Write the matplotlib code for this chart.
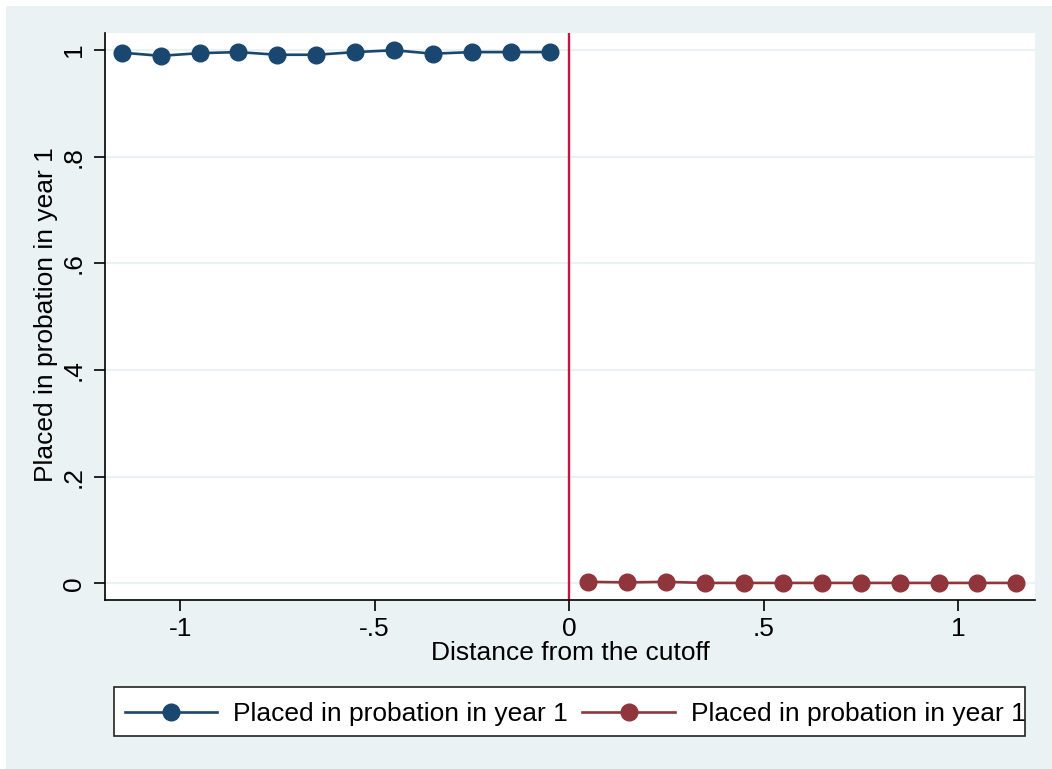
import matplotlib
matplotlib.use("Agg")
import matplotlib.pyplot as plt
from matplotlib.patches import Rectangle
from matplotlib.lines import Line2D

plt.rcParams['font.family'] = ['Liberation Sans', 'DejaVu Sans']

# Data
x_left = [-1.15, -1.05, -0.95, -0.85, -0.75, -0.65, -0.55, -0.45, -0.35, -0.25, -0.15, -0.05]
y_left = [0.995, 0.989, 0.994, 0.996, 0.991, 0.991, 0.996, 0.9995, 0.993, 0.996, 0.996, 0.996]
x_right = [0.05, 0.15, 0.25, 0.35, 0.45, 0.55, 0.65, 0.75, 0.85, 0.95, 1.05, 1.15]
y_right = [0.003, 0.002, 0.003, 0.001, 0.001, 0.001, 0.001, 0.001, 0.001, 0.001, 0.001, 0.001]
xticks = [-1, -0.5, 0, 0.5, 1]
xticklabels = ['-1', '-.5', '0', '.5', '1']
yticks = [0, 0.2, 0.4, 0.6, 0.8, 1]
yticklabels = ['0', '.2', '.4', '.6', '.8', '1']
series_label = 'Placed in probation in year 1'
xlabel = 'Distance from the cutoff'
ylabel = 'Placed in probation in year 1'

W, H = 1052, 769
FS = 19
LW = 1.9
MS = 12
fig = plt.figure(figsize=(W / 100, H / 100), dpi=100)
fig.patch.set_facecolor('white')
bg = '#EAF2F3'
fig.patches.append(Rectangle((6 / W, 0), 1 - 6 / W, 1 - 6 / H, transform=fig.transFigure,
                             facecolor=bg, edgecolor='none', zorder=-5))

ax = fig.add_axes([105 / W, 1 - 600 / H, (1035 - 105) / W, (600 - 33) / H])
ax.set_zorder(2)
ax.set_facecolor('white')
blue = '#1A476F'
red = '#90353B'
ax.plot(x_left, y_left, color=blue, lw=LW, marker='o', ms=MS, zorder=3)
ax.plot(x_right, y_right, color=red, lw=LW, marker='o', ms=MS, zorder=3)
ax.axvline(0, color='#C8153F', lw=1.7, zorder=2)

ax.set_xlim(-1.193, 1.198)
ax.set_ylim(-0.031, 1.0318)
ax.set_xticks(xticks)
ax.set_xticklabels(xticklabels)
ax.set_yticks(yticks)
ax.set_yticklabels(yticklabels, rotation=90, va='center')
ax.grid(axis='y', color=bg, lw=1.5)
ax.set_axisbelow(True)
for s in ['top', 'right']:
    ax.spines[s].set_visible(False)
for s in ['left', 'bottom']:
    ax.spines[s].set_color('black')
    ax.spines[s].set_linewidth(1.2)
ax.tick_params(axis='both', direction='out', length=8, width=1.2, labelsize=FS, pad=6)
ax.tick_params(axis='x', pad=4)
ax.set_xlabel(xlabel, fontsize=FS, labelpad=0)
fig.text(46 / W, 1 - 315 / H, ylabel, rotation=90, fontsize=FS, ha='center', va='center',
         zorder=5)

# Legend box
fig.patches.append(Rectangle((114 / W, 1 - 736 / H), (1025 - 114) / W, (736 - 687) / H,
                             transform=fig.transFigure, facecolor='white', edgecolor='#222222',
                             lw=1.2, zorder=1))
handles = [Line2D([], [], color=blue, lw=LW, marker='o', ms=MS),
           Line2D([], [], color=red, lw=LW, marker='o', ms=MS)]
leg = fig.legend(handles, [series_label, series_label], ncol=2, frameon=False,
                 loc='center left', bbox_to_anchor=(125 / W, 1 - 714 / H), fontsize=FS,
                 handlelength=3.5, columnspacing=0.55, handletextpad=0.6, borderaxespad=0,
                 borderpad=0)
leg.set_zorder(2)

fig.savefig('out.png', dpi=100, facecolor=fig.get_facecolor())
